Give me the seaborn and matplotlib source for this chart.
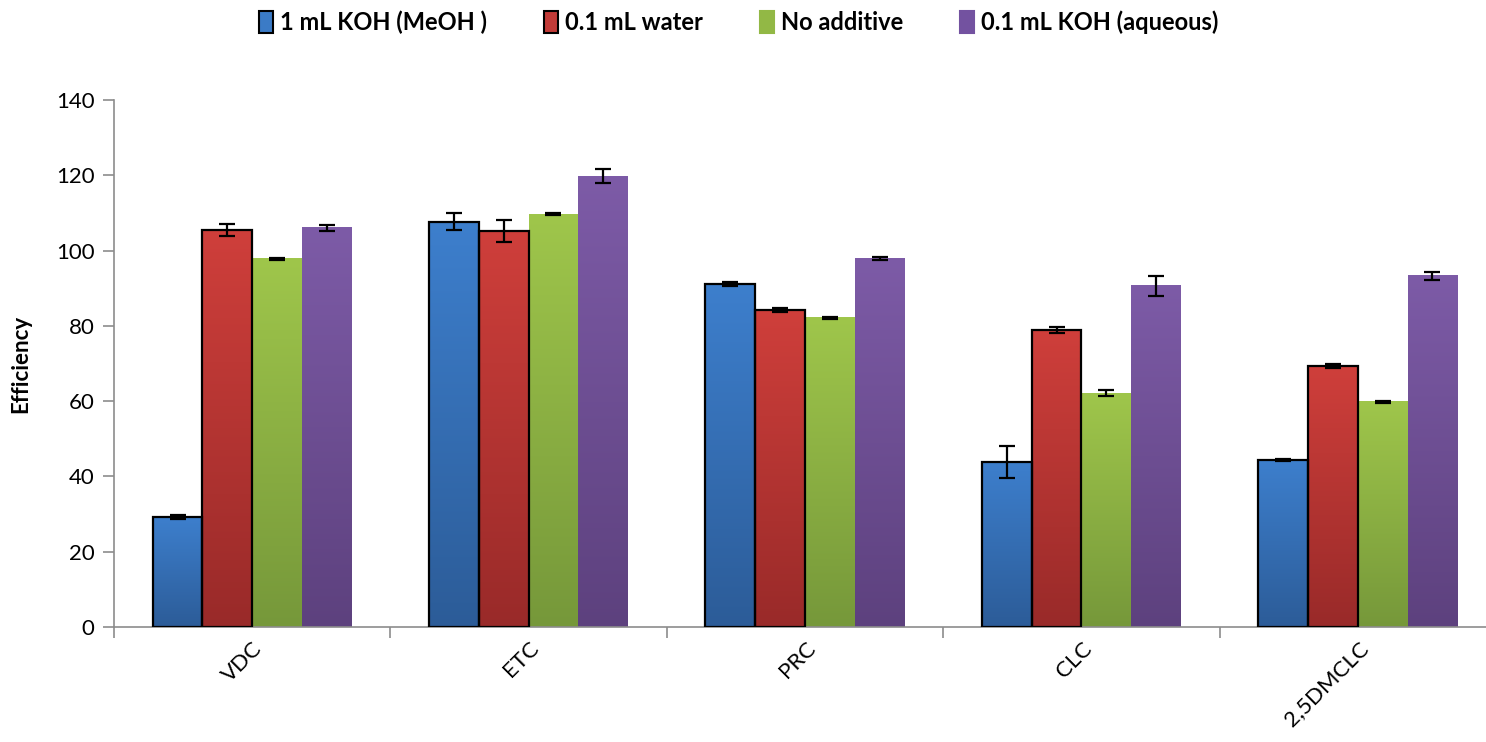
import numpy as np
import pandas as pd
import matplotlib
matplotlib.use('Agg')
import matplotlib.pyplot as plt
from matplotlib.patches import Patch
from matplotlib.colors import LinearSegmentedColormap
import seaborn as sns

# data
compounds = ['VDC', 'ETC', 'PRC', 'CLC', '2,5DMCLC']
additives = ['1 mL KOH (MeOH )', '0.1 mL water', 'No additive', '0.1 mL KOH (aqueous)']

koh_meoh = [29.2, 107.7, 91.2, 43.9, 44.4]
water = [105.5, 105.3, 84.2, 78.9, 69.4]
no_add = [97.8, 109.7, 82.1, 62.1, 59.8]
koh_aq = [106.0, 119.8, 97.9, 90.6, 93.3]

koh_meoh_err = [0.6, 2.3, 0.5, 4.2, 0.3]
water_err = [1.6, 2.9, 0.5, 0.9, 0.6]
no_add_err = [0.2, 0.3, 0.2, 0.8, 0.3]
koh_aq_err = [0.7, 1.8, 0.5, 2.6, 1.1]

values = [koh_meoh, water, no_add, koh_aq]
errors = [koh_meoh_err, water_err, no_add_err, koh_aq_err]

# gradient colours (top, bottom) per series
top_cols = ['#3d7fcd', '#cf3f3b', '#9fc64b', '#7d5ba7']
bot_cols = ['#2c5c98', '#992a29', '#76983a', '#5d417e']
mid_cols = ['#3b7bc6', '#c23b38', '#92b845', '#7352a0']
edges = ['black', 'black', 'none', 'none']

df = pd.DataFrame({
    'compound': np.repeat([compounds], 4, axis=0).ravel(),
    'additive': np.repeat(additives, len(compounds)),
    'eff': np.concatenate(values),
})

plt.rcParams['font.family'] = ['Lato', 'DejaVu Sans']

fig = plt.figure(figsize=(14.86, 7.42), dpi=100)
ax = fig.add_axes([114 / 1486, 115 / 742, 1382 / 1486, 527 / 742])

sns.barplot(data=df, x='compound', y='eff', hue='additive', hue_order=additives,
            palette=mid_cols, width=0.72, gap=0, errorbar=None, legend=False, ax=ax)

# gradient fill + edges + error bars per series
bar_conts = list(ax.containers)
grad = np.linspace(0, 1, 256).reshape(-1, 1)
for i, cont in enumerate(bar_conts):
    cmap = LinearSegmentedColormap.from_list('g%d' % i, [bot_cols[i], top_cols[i]])
    xs = []
    for bar in cont:
        x0, w, h = bar.get_x(), bar.get_width(), bar.get_height()
        xs.append(x0 + w / 2)
        ax.imshow(grad, cmap=cmap, aspect='auto', origin='lower',
                  extent=[x0, x0 + w, 0, h], zorder=2)
        bar.set_facecolor('none')
        bar.set_edgecolor(edges[i])
        bar.set_linewidth(1.6)
        bar.set_zorder(3)
    ax.errorbar(xs, values[i], yerr=errors[i], fmt='none', ecolor='black',
                elinewidth=1.6, capsize=6, capthick=1.6, zorder=4)

ax.set_xlim(-0.5, len(compounds) - 0.5)
ax.set_ylim(0, 140)

# axes styling
for s in ['top', 'right']:
    ax.spines[s].set_visible(False)
for s in ['left', 'bottom']:
    ax.spines[s].set_color('#8c8c8c')
    ax.spines[s].set_linewidth(1.2)

ax.set_yticks(np.arange(0, 141, 20))
ax.tick_params(axis='y', direction='out', length=8, color='#8c8c8c', width=1.2,
               labelsize=16, pad=6)
ax.set_xticks(np.arange(len(compounds)))
ax.set_xticks(np.arange(-0.5, len(compounds)), minor=True)
ax.tick_params(axis='x', which='major', length=0, labelsize=16, pad=8)
ax.tick_params(axis='x', which='minor', direction='out', length=8, color='#8c8c8c', width=1.2)
for lab in ax.get_xticklabels():
    lab.set_rotation(45)
    lab.set_ha('right')
    lab.set_rotation_mode('anchor')

ax.set_xlabel('')
ax.set_ylabel('Efficiency', fontsize=16, fontweight='bold', labelpad=18)

handles = [Patch(facecolor=mid_cols[i], edgecolor=('black' if edges[i] != 'none' else mid_cols[i]),
                 linewidth=1.5) for i in range(4)]
leg = fig.legend(handles, additives, loc='center', bbox_to_anchor=(0.497, 0.97), ncol=4,
                 frameon=False, handlelength=0.6, handleheight=1.0, handletextpad=0.3,
                 columnspacing=2.4, prop={'size': 17, 'weight': 'bold'})

fig.savefig('out.png', dpi=100)
